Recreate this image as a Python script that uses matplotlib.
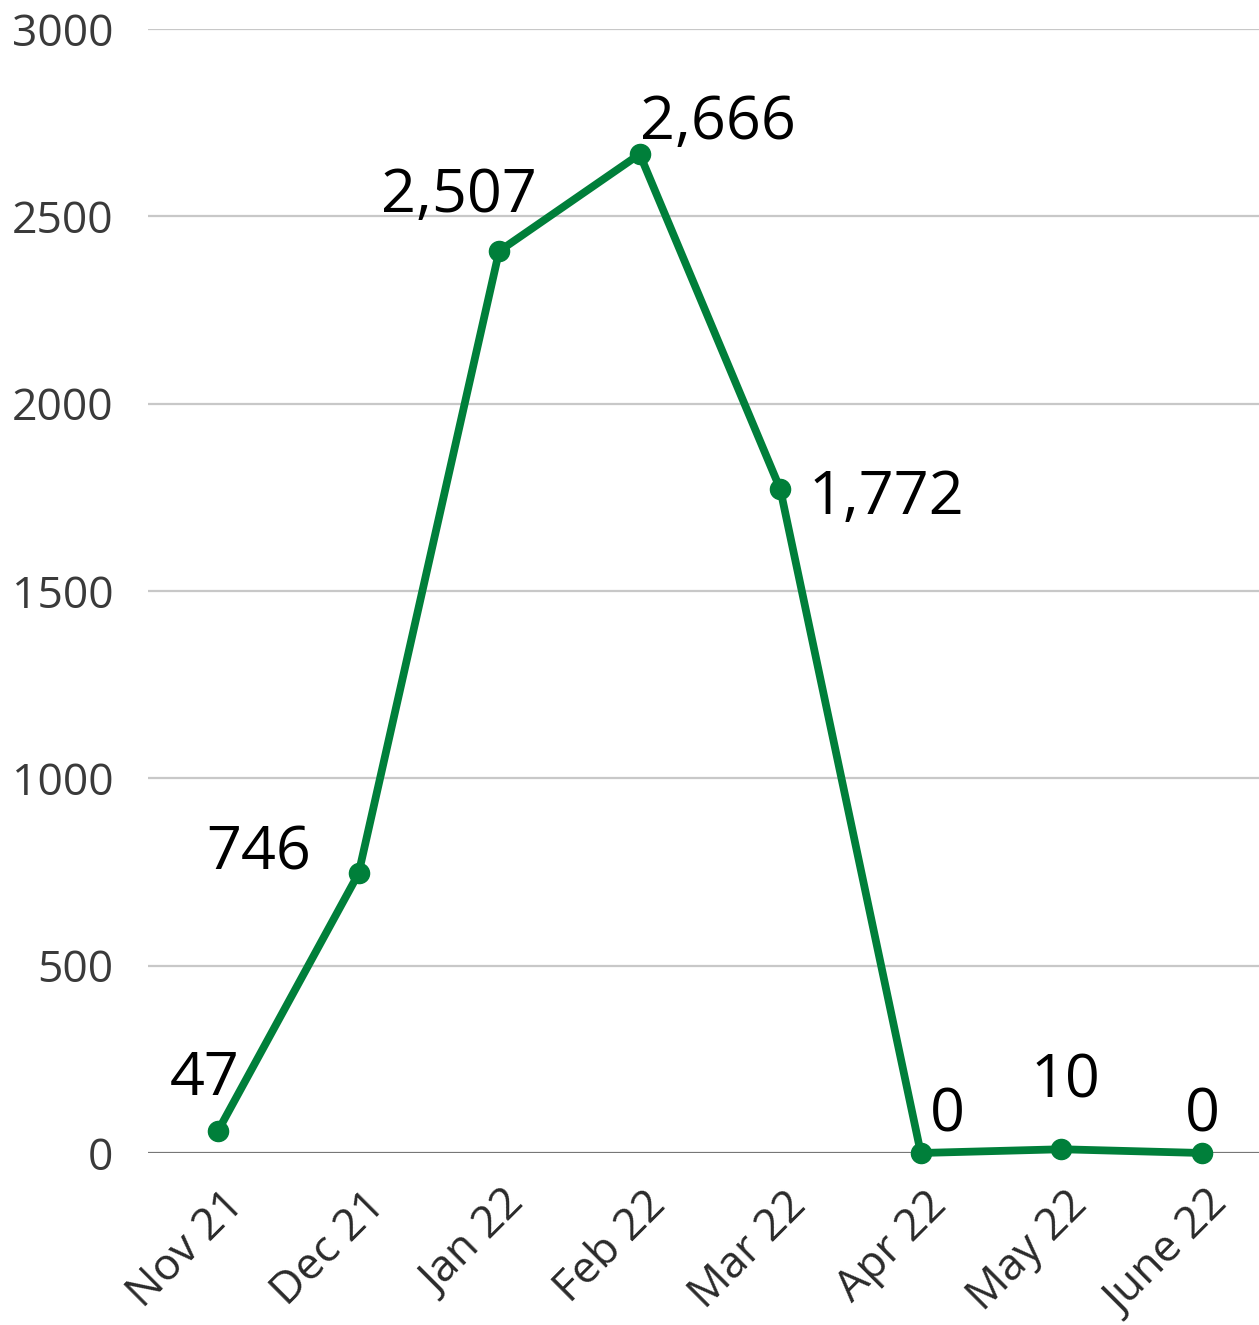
import matplotlib
matplotlib.use("Agg")
import matplotlib.pyplot as plt
from matplotlib.transforms import ScaledTranslation

months = ["Nov 21", "Dec 21", "Jan 22", "Feb 22", "Mar 22", "Apr 22", "May 22", "June 22"]
# plotted positions
values = [59, 746, 2407, 2666, 1772, 0, 10, 0]
value_labels = ["47", "746", "2,507", "2,666", "1,772", "0", "10", "0"]
y_ticks = [0, 500, 1000, 1500, 2000, 2500, 3000]

# label offsets in pixels (left edge / baseline relative to the marker)
label_offsets = [(-48, 36), (-152, 4), (-118, 39), (0, 15), (28, -25), (9, 21), (-31, 52), (-17, 21)]

GREEN = "#007f3a"

plt.rcParams["font.family"] = ["Open Sans", "DejaVu Sans"]

fig = plt.figure(figsize=(12.59, 13.25), dpi=100)
ax = fig.add_axes([148 / 1259, 1 - 1153 / 1325, 1 - 148 / 1259, (1153 - 29) / 1325])

x = list(range(len(months)))

# -------------------------
# Grid
# -------------------------
for t in y_ticks:
    ax.axhline(t, color="#777777" if t == 0 else "#c8c8c8", linewidth=1.6, zorder=1)

ax.plot(
    x,
    values,
    color=GREEN,
    linewidth=5.6,
    marker="o",
    markersize=14.5,
    clip_on=False,
    zorder=3,
)

for i, (v, lab) in enumerate(zip(values, value_labels)):
    dx, dy = label_offsets[i]
    ax.annotate(
        lab,
        (i, v),
        xytext=(dx, dy),
        textcoords="offset pixels",
        ha="left",
        va="baseline",
        fontsize=44,
        color="black",
        zorder=4,
    )

ax.set_xlim(-0.498, 7.406)
ax.set_ylim(0, 3000)

for s in ax.spines.values():
    s.set_visible(False)

ax.set_yticks(y_ticks)
ax.set_yticklabels([str(t) for t in y_ticks], fontsize=32, color="#3a3a3a")
ax.tick_params(axis="y", length=0, pad=25)

ax.set_xticks(x)
ax.set_xticklabels(months, fontsize=32, rotation=45,
                   ha="right", va="center", rotation_mode="anchor", color="#2a2a2a")
ax.tick_params(axis="x", length=0, pad=30)
shift = ScaledTranslation(20 / 100, -4 / 100, fig.dpi_scale_trans)
for lbl in ax.get_xticklabels():
    lbl.set_transform(lbl.get_transform() + shift)

fig.savefig("out.png", dpi=100)
